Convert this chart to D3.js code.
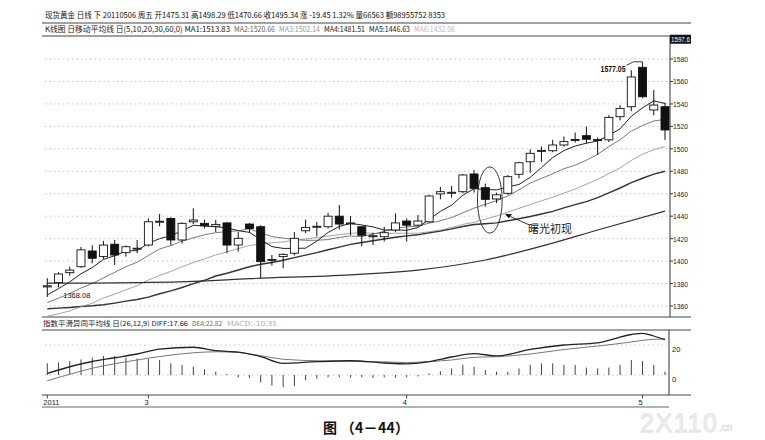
<!DOCTYPE html>
<html><head><meta charset="utf-8">
<script src="https://cdn.jsdelivr.net/npm/d3@7"></script>
<style>body{margin:0;background:#fff} svg{display:block}</style>
</head><body>
<svg id="c" width="765" height="440"></svg>
<script>
// ---------- data ----------
const opens =[1377,1380.8,1389.7,1395,1409,1404,1415,1407.5,1411,1414.3,1435,1438,1418.8,1435,1433.6,1431,1434,1414.3,1433,1430.6,1401,1404,1407,1427,1430.6,1430.6,1440,1433.7,1430.6,1422.3,1421.7,1427.7,1435.7,1432,1435,1459.8,1461,1461.8,1477.6,1465.4,1455.3,1460.4,1477.3,1488.5,1498.3,1498.3,1503.4,1508,1511.7,1508,1508,1528.6,1537.5,1572.6,1534.6,1537.5];
const highs =[1384.7,1390,1395,1412.5,1414,1418,1418.8,1414,1418.8,1438,1442,1439,1434.5,1447,1437,1436.6,1434.5,1426,1434,1432,1405.4,1407,1426,1437,1435,1443,1450,1440,1431,1425.3,1430.6,1442.5,1438,1441,1459,1466,1467,1477.5,1481,1469,1461,1476.7,1488.5,1499.5,1502,1508,1511,1514.5,1519.7,1510,1530,1539,1570,1577.05,1552.4,1541];
const lows  =[1368.08,1376.7,1387,1394,1398,1402,1396.5,1404,1407,1413,1431,1414,1415.8,1433,1429,1426,1407,1408.4,1425,1384.7,1396,1393.6,1405,1425,1422,1429,1428,1423,1413,1414.3,1417.5,1426,1417.3,1431,1434,1455,1456.5,1460.5,1461,1448.5,1451.7,1459,1473.7,1478.7,1488.5,1497,1502,1505.5,1504.9,1494.5,1506,1525.4,1533.5,1545,1530,1508];
const closes=[1378,1388.5,1392,1410,1402.5,1414.3,1405.4,1412.8,1411.5,1435,1435.5,1418.8,1433.6,1436.6,1431.5,1432.7,1414.3,1420.3,1429,1399.5,1401.5,1406,1420.3,1430,1431,1440,1433,1434,1423,1422.6,1425.3,1434,1432,1435.7,1458,1461.8,1461.3,1476.7,1464.8,1455,1459,1475.2,1487.6,1496,1498.6,1503.4,1506.4,1508.3,1508.5,1508.3,1528,1536,1564,1546.4,1539,1516.8];

const ma5 =[1369.8,1375.5,1381.5,1388.7,1394.2,1401.5,1404.8,1409.0,1409.3,1415.8,1420.0,1422.7,1426.9,1431.9,1431.2,1430.6,1429.7,1427.1,1425.6,1419.2,1412.9,1411.3,1411.3,1411.5,1417.8,1425.5,1430.9,1433.6,1432.2,1430.5,1427.6,1427.8,1427.4,1429.9,1437.0,1444.3,1449.8,1458.7,1464.5,1463.9,1463.4,1466.1,1468.3,1474.6,1483.3,1492.2,1498.4,1502.5,1505.0,1507.0,1511.9,1517.8,1529.0,1536.5,1542.7,1540.4];
const ma10=[1363,1367,1371,1376,1380,1385,1390,1395,1399,1405.0,1410.8,1413.8,1417.9,1420.6,1423.5,1425.3,1426.2,1427.0,1428.7,1425.2,1421.8,1420.5,1419.2,1418.5,1418.5,1419.2,1421.1,1422.4,1421.8,1424.1,1426.5,1429.3,1430.5,1431.1,1433.8,1435.9,1438.8,1443.0,1447.2,1450.5,1453.8,1458.0,1463.5,1469.5,1473.6,1477.8,1482.3,1485.4,1489.8,1495.1,1502.0,1508.1,1515.8,1520.8,1524.8,1526.2];
const ma20=[1350.8,1353.1,1355.6,1359.4,1362.4,1367.2,1370.5,1374.5,1378.1,1383.1,1387.3,1390.8,1395.0,1398.7,1402.0,1405.5,1408.2,1411.1,1413.9,1415.1,1416.3,1417.1,1418.6,1419.6,1421.0,1422.3,1423.6,1424.7,1425.3,1424.7,1424.2,1424.9,1424.8,1424.8,1426.1,1427.6,1429.9,1432.7,1434.5,1437.3,1440.2,1443.6,1447.0,1450.3,1453.7,1456.9,1460.5,1464.2,1468.5,1472.8,1477.9,1483.0,1489.6,1495.2,1499.2,1502.0];
const ma30=[1357.5,1358.1,1358.7,1359.6,1360.2,1361.1,1362.6,1364.3,1365.8,1367.9,1370.9,1373.5,1376.5,1380.0,1382.9,1386.7,1389.2,1392.1,1395.0,1397.2,1398.8,1400.7,1403.1,1405.3,1407.5,1410.1,1412.5,1414.9,1416.5,1418.1,1419.7,1421.2,1422.5,1423.4,1425.2,1426.8,1428.7,1430.8,1432.6,1433.3,1434.0,1435.9,1437.7,1439.7,1441.9,1444.3,1447.4,1450.3,1453.0,1456.6,1460.8,1465.1,1469.9,1473.8,1477.4,1480.0];
const ma60Idx=[0,6,13,18,27,33,39,45,49,55];
const ma60   =[1380.3,1380.6,1381.9,1384.3,1387.8,1392.0,1401.0,1416.0,1427.7,1444.5];

const macdBars=[7.8,8.4,9.3,10.4,11.6,12.7,12.7,11.6,11.1,10.7,10.0,7.8,6.7,5.6,3.8,2.2,0.7,-1.5,-2,-5,-7,-8,-7.5,-3.5,-2.5,-1.5,-1.5,-1.8,-1.5,-2,-1.5,-1.8,-1.5,-1,1,2.5,4.4,6.7,5.6,3.3,2.2,2.2,4.4,6.7,7.8,7.8,6.7,6.7,4.9,4.4,4.9,6.7,10,9.3,6.7,2.2];
const macdIdx=[0,2,4,6,8,10,13,15,17,19,21,24,27,30,32,34,36,38,40,43,46,49,52,53,54,55];
const diffVals=[1.1,5.5,9.0,11.5,14.0,17.3,18.5,16.2,15.3,12.3,7.8,8.9,9.5,8.0,7.4,8.9,12.0,14.3,12.7,17.1,20.0,21.4,27.0,27.8,26.0,23.5];
const deaVals =[-3.8,0.5,4.5,7.5,10.0,12.3,14.8,15.5,15.0,12.8,10.5,9.5,9.2,8.8,8.3,9.0,10.0,11.8,12.2,14.0,17.0,19.3,22.0,23.1,23.8,24.0];

const priceTicks=[1360,1380,1400,1420,1440,1460,1480,1500,1520,1540,1560,1580];
const macdTicks=[0,20];
const xTickIdx=[0,9,32,53];
const xTickLabels=["2011","3","4","5"];
const topPriceLabel="1597.6";

const header1="现货黄金 日线 下 20110506 周五 开1475.31 高1498.29 低1470.66 收1495.34 涨 -19.45 1.32% 量66563 额98955752 8353";
const header2Texts=["K线图 日移动平均线 日(5,10,20,30,60,0) MA1:1513.83","MA2:1520.66","MA3:1502.14","MA4:1481.51","MA5:1446.63","MA6:1432.06"];
const header2Colors=["#222","#666","#999","#222","#222","#bbb"];
const macdTitleTexts=["指数平滑异同平均线 日(26,12,9) DIFF:17.66","DEA:22.82","MACD:-10.31"];
const macdTitleColors=["#222","#666","#aaa"];
const annoText="曙光初现";
const caption="图 （4－44）";

// ---------- drawing ----------
const svg=d3.select("#c");
const FONT='"Liberation Sans","Noto Sans CJK SC",sans-serif';
const CJK='"Noto Sans CJK SC","Liberation Sans",sans-serif';
const L=42, R=670, RE=691;
const x=d3.scaleLinear().domain([0,55]).range([47.3,665]);
const y=d3.scaleLinear().domain([1360,1580]).range([306,59]);
const ym=d3.scaleLinear().domain([0,20]).range([375,345]);

// text runs laid out in given slots [start, width]
function runs(texts, colors, slots, yb, fs){
  texts.forEach((t,i)=>svg.append("text").attr("x",slots[i][0]).attr("y",yb)
    .attr("font-family",CJK).attr("font-size",fs).attr("fill",colors[i])
    .attr("textLength",slots[i][1]).attr("lengthAdjust","spacingAndGlyphs").text(t));
}

// header
svg.append("text").attr("x",45).attr("y",18).attr("font-family",CJK).attr("font-size",8)
  .attr("fill","#111").attr("textLength",400).attr("lengthAdjust","spacingAndGlyphs").text(header1);
runs(header2Texts, header2Colors, [[45,185],[234,41],[279,41],[324,41],[369,41],[414,41]], 32, 8);
svg.append("line").attr("x1",L).attr("x2",RE).attr("y1",23).attr("y2",23).attr("stroke","#444");
svg.append("line").attr("x1",L).attr("x2",RE).attr("y1",36).attr("y2",36).attr("stroke","#444");

// main grid
svg.append("g").selectAll("line").data(priceTicks).join("line")
  .attr("x1",45).attr("x2",R-2).attr("y1",d=>y(d)).attr("y2",d=>y(d))
  .attr("stroke","#b5b5b5").attr("stroke-width",0.8).attr("stroke-dasharray","1.5,3");

// main frame
svg.append("line").attr("x1",R).attr("x2",R).attr("y1",36).attr("y2",317).attr("stroke","#333");
svg.append("line").attr("x1",L).attr("x2",RE).attr("y1",317).attr("y2",317).attr("stroke","#444");
const pAx=svg.append("g");
pAx.selectAll("line").data(priceTicks).join("line")
  .attr("x1",R).attr("x2",R+3).attr("y1",d=>y(d)).attr("y2",d=>y(d)).attr("stroke","#333");
pAx.selectAll("text").data(priceTicks).join("text")
  .attr("x",R+3).attr("y",d=>y(d)+3).attr("font-family",FONT).attr("font-size",7.5).attr("fill","#222")
  .attr("textLength",15).attr("lengthAdjust","spacingAndGlyphs").text(d=>d);
svg.append("rect").attr("x",R).attr("y",y(1597.6)-4.5).attr("width",21).attr("height",9).attr("fill","#111");
svg.append("text").attr("x",R+1).attr("y",y(1597.6)+2.5).attr("font-family",FONT).attr("font-size",7)
  .attr("fill","#fff").attr("textLength",19).attr("lengthAdjust","spacingAndGlyphs").text(topPriceLabel);

// moving averages
const idx=d3.range(closes.length);
const lineOf=(arr)=>d3.line().x((d,i)=>x(i)).y(d=>y(d))(arr);
const mas=[[ma30,"#333",1.4],[ma20,"#9a9a9a",0.9],[ma10,"#6a6a6a",0.9],[ma5,"#222",1]];
mas.forEach(m=>svg.append("path").attr("d",lineOf(m[0])).attr("fill","none").attr("stroke",m[1]).attr("stroke-width",m[2]));
svg.append("path").attr("d",d3.line().curve(d3.curveMonotoneX).x(d=>x(d[0])).y(d=>y(d[1]))(ma60Idx.map((k,i)=>[k,ma60[i]])))
  .attr("fill","none").attr("stroke","#333").attr("stroke-width",1.2);

// candles
const bw=8;
const cg=svg.append("g");
cg.selectAll("line").data(idx).join("line")
  .attr("x1",i=>x(i)).attr("x2",i=>x(i)).attr("y1",i=>y(highs[i])).attr("y2",i=>y(lows[i]))
  .attr("stroke","#111").attr("stroke-width",1);
cg.selectAll("rect").data(idx).join("rect")
  .attr("x",i=>x(i)-bw/2).attr("width",bw)
  .attr("y",i=>y(Math.max(opens[i],closes[i])))
  .attr("height",i=>Math.max(1,Math.abs(y(opens[i])-y(closes[i]))))
  .attr("fill",i=>closes[i]>=opens[i]?"#fff":"#111")
  .attr("stroke","#111").attr("stroke-width",0.9);

// high / low labels
const hiI=d3.maxIndex(highs), loI=d3.minIndex(lows);
const hx=x(hiI), hy=y(highs[hiI]);
svg.append("polyline").attr("points",[[hx-16,hy+3],[hx-9,hy-0.5],[hx,hy-0.5],[hx,hy+4]].map(p=>p.join(",")).join(" "))
  .attr("fill","none").attr("stroke","#222").attr("stroke-width",0.9);
svg.append("text").attr("x",hx-17).attr("y",hy+10).attr("text-anchor","end").attr("font-family",FONT)
  .attr("font-size",8.5).attr("font-weight","bold").attr("fill","#111").attr("textLength",25).attr("lengthAdjust","spacingAndGlyphs")
  .text(highs[hiI].toFixed(2));
svg.append("text").attr("x",x(loI)+16).attr("y",y(lows[loI])+1.5).attr("font-family",FONT)
  .attr("font-size",8).attr("fill","#111").attr("textLength",27).attr("lengthAdjust","spacingAndGlyphs")
  .text(lows[loI].toFixed(2));

// annotation: ellipse around the pattern and arrow with text
const eIdx=39.4, eP=1454.4;
svg.append("ellipse").attr("cx",x(eIdx)).attr("cy",y(eP))
  .attr("rx",x(eIdx+1.1)-x(eIdx)).attr("ry",y(eP-29.5)-y(eP))
  .attr("fill","none").attr("stroke","#222").attr("stroke-width",0.9);
const ah=[x(40.85),y(1441.2)], at=[x(42.9),y(1432.3)];
svg.append("line").attr("x1",ah[0]).attr("y1",ah[1]).attr("x2",at[0]).attr("y2",at[1]).attr("stroke","#222").attr("stroke-width",0.9);
svg.append("path").attr("d",`M${ah[0]-1},${ah[1]-1}l7,0.5l-3.5,4z`).attr("fill","#111");
svg.append("text").attr("x",x(42.8)).attr("y",y(1425)).attr("font-family",CJK).attr("font-size",11)
  .attr("fill","#222").text(annoText);

// MACD panel
runs(macdTitleTexts, macdTitleColors, [[43,145],[192,30],[227,50]], 325.5, 6.6);
svg.append("line").attr("x1",L).attr("x2",RE).attr("y1",330).attr("y2",330).attr("stroke","#444");
svg.append("line").attr("x1",R-1).attr("x2",R-1).attr("y1",330).attr("y2",395).attr("stroke","#333");
svg.append("line").attr("x1",L).attr("x2",RE).attr("y1",395).attr("y2",395).attr("stroke","#444");
svg.append("line").attr("x1",L).attr("x2",R-1).attr("y1",407).attr("y2",407).attr("stroke","#666");
svg.append("g").selectAll("line").data(macdTicks).join("line")
  .attr("x1",45).attr("x2",R-3).attr("y1",d=>ym(d)).attr("y2",d=>ym(d))
  .attr("stroke","#bbb").attr("stroke-width",0.8).attr("stroke-dasharray","1.5,3");
svg.append("g").selectAll("text").data(macdTicks).join("text")
  .attr("x",R+2).attr("y",d=>ym(d)+6.5).attr("font-family",FONT).attr("font-size",7.5).attr("fill","#222").text(d=>d);
svg.append("g").selectAll("line").data(idx).join("line")
  .attr("x1",i=>x(i)).attr("x2",i=>x(i)).attr("y1",ym(0)).attr("y2",i=>ym(macdBars[i]))
  .attr("stroke","#444").attr("stroke-width",1);
const mline=(vals)=>d3.line().curve(d3.curveMonotoneX).x(d=>x(d[0])).y(d=>ym(d[1]))(macdIdx.map((k,i)=>[k,vals[i]]));
svg.append("path").attr("d",mline(deaVals)).attr("fill","none").attr("stroke","#777").attr("stroke-width",1);
svg.append("path").attr("d",mline(diffVals)).attr("fill","none").attr("stroke","#222").attr("stroke-width",1.3);

// x axis labels
const xa=svg.append("g");
xa.selectAll("line").data(xTickIdx).join("line")
  .attr("x1",d=>x(d)).attr("x2",d=>x(d)).attr("y1",395).attr("y2",398.5).attr("stroke","#444");
xa.selectAll("text").data(xTickIdx).join("text")
  .attr("x",d=>x(d)-4).attr("y",404.5).attr("font-family",FONT).attr("font-size",7.5).attr("fill","#222")
  .text((d,i)=>xTickLabels[i]);

// caption and watermark
svg.append("text").attr("x",323).attr("y",433).attr("font-family",CJK).attr("font-size",14)
  .attr("font-weight","bold").attr("fill","#111").attr("textLength",86).attr("lengthAdjust","spacing").text(caption);
svg.append("text").attr("x",640).attr("y",432).attr("font-family",FONT).attr("font-size",25)
  .attr("fill","#f6f6f6").attr("stroke","#dcdcdc").attr("stroke-width",0.8).attr("textLength",77).text("2X110");
svg.append("text").attr("x",719).attr("y",431).attr("font-family",FONT).attr("font-size",10)
  .attr("fill","#f6f6f6").attr("stroke","#dcdcdc").attr("stroke-width",0.6).text(".cn");
</script>
</body></html>
